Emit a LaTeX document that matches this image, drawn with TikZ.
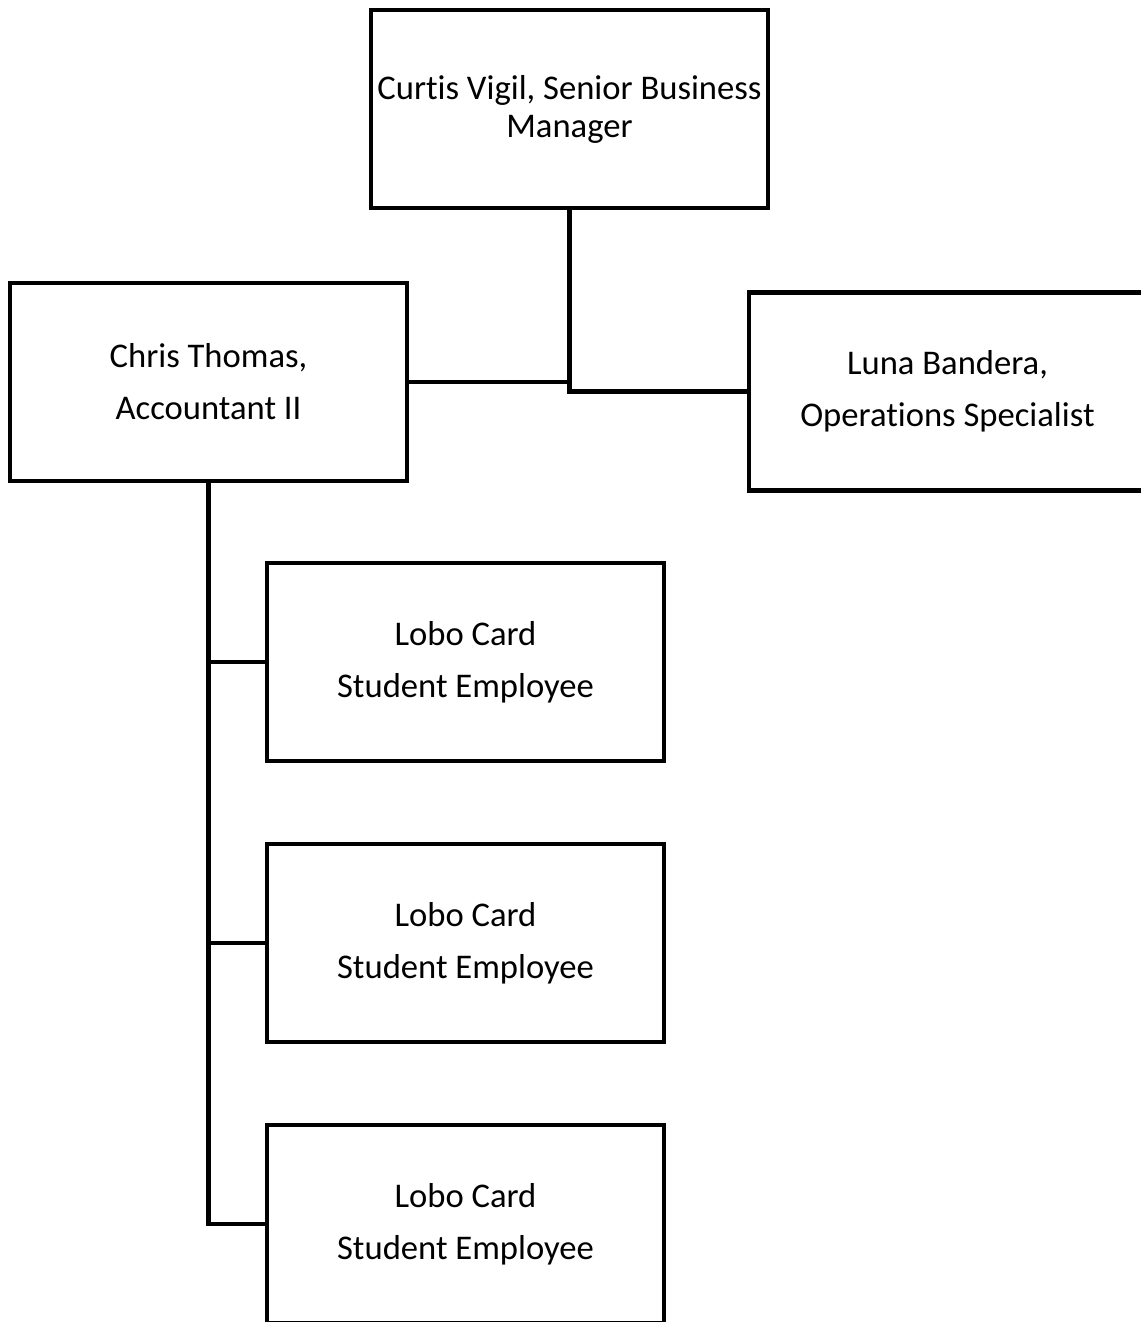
\documentclass[tikz,border=0pt]{standalone}
\usepackage{fontspec}
\setmainfont[Ligatures=NoCommon]{Carlito}
\usepackage{tikz}
\tikzset{orgbox/.style = {draw=black, line width = 0.085cm, rectangle, align=center, inner sep=0pt,
   minimum width=7.94cm, minimum height=3.96cm, font=\fontsize{19.7}{29.6}\selectfont}}
\tikzset{orgline/.style = {draw=black, line width = 0.085cm}}

\begin{document}
\begin{tikzpicture}[x=0.02cm, y=-0.02cm]
		% Frame
		\useasboundingbox (0,0) rectangle (1140,1322);
		
		% Boxes
		\node[orgbox, font=\fontsize{19.7}{21.6}\selectfont] (curtis) at (569.5,109) {Curtis Vigil, Senior Business\\Manager};
		\node[orgbox] (chris) at (208.5,382) {Chris Thomas,\\Accountant II};
		\node[orgbox] (luna) at (947.5,391.5) {Luna Bandera,\\Operations Specialist};
		\foreach \n/\y in {1/662, 2/943, 3/1224}
			\node[orgbox] (lobo\n) at (465.5,\y) {Lobo Card\\Student Employee};
		
		% Lines
		\draw[orgline] (curtis.south) |- (luna.west);
		\draw[orgline] (chris.east) -- (chris.east -| curtis.south);
		\draw[orgline] (chris.south) |- (lobo3.west);
		\draw[orgline] (lobo1.west) -- (lobo1.west -| chris.south);
		\draw[orgline] (lobo2.west) -- (lobo2.west -| chris.south);
	\end{tikzpicture}
\end{document}
